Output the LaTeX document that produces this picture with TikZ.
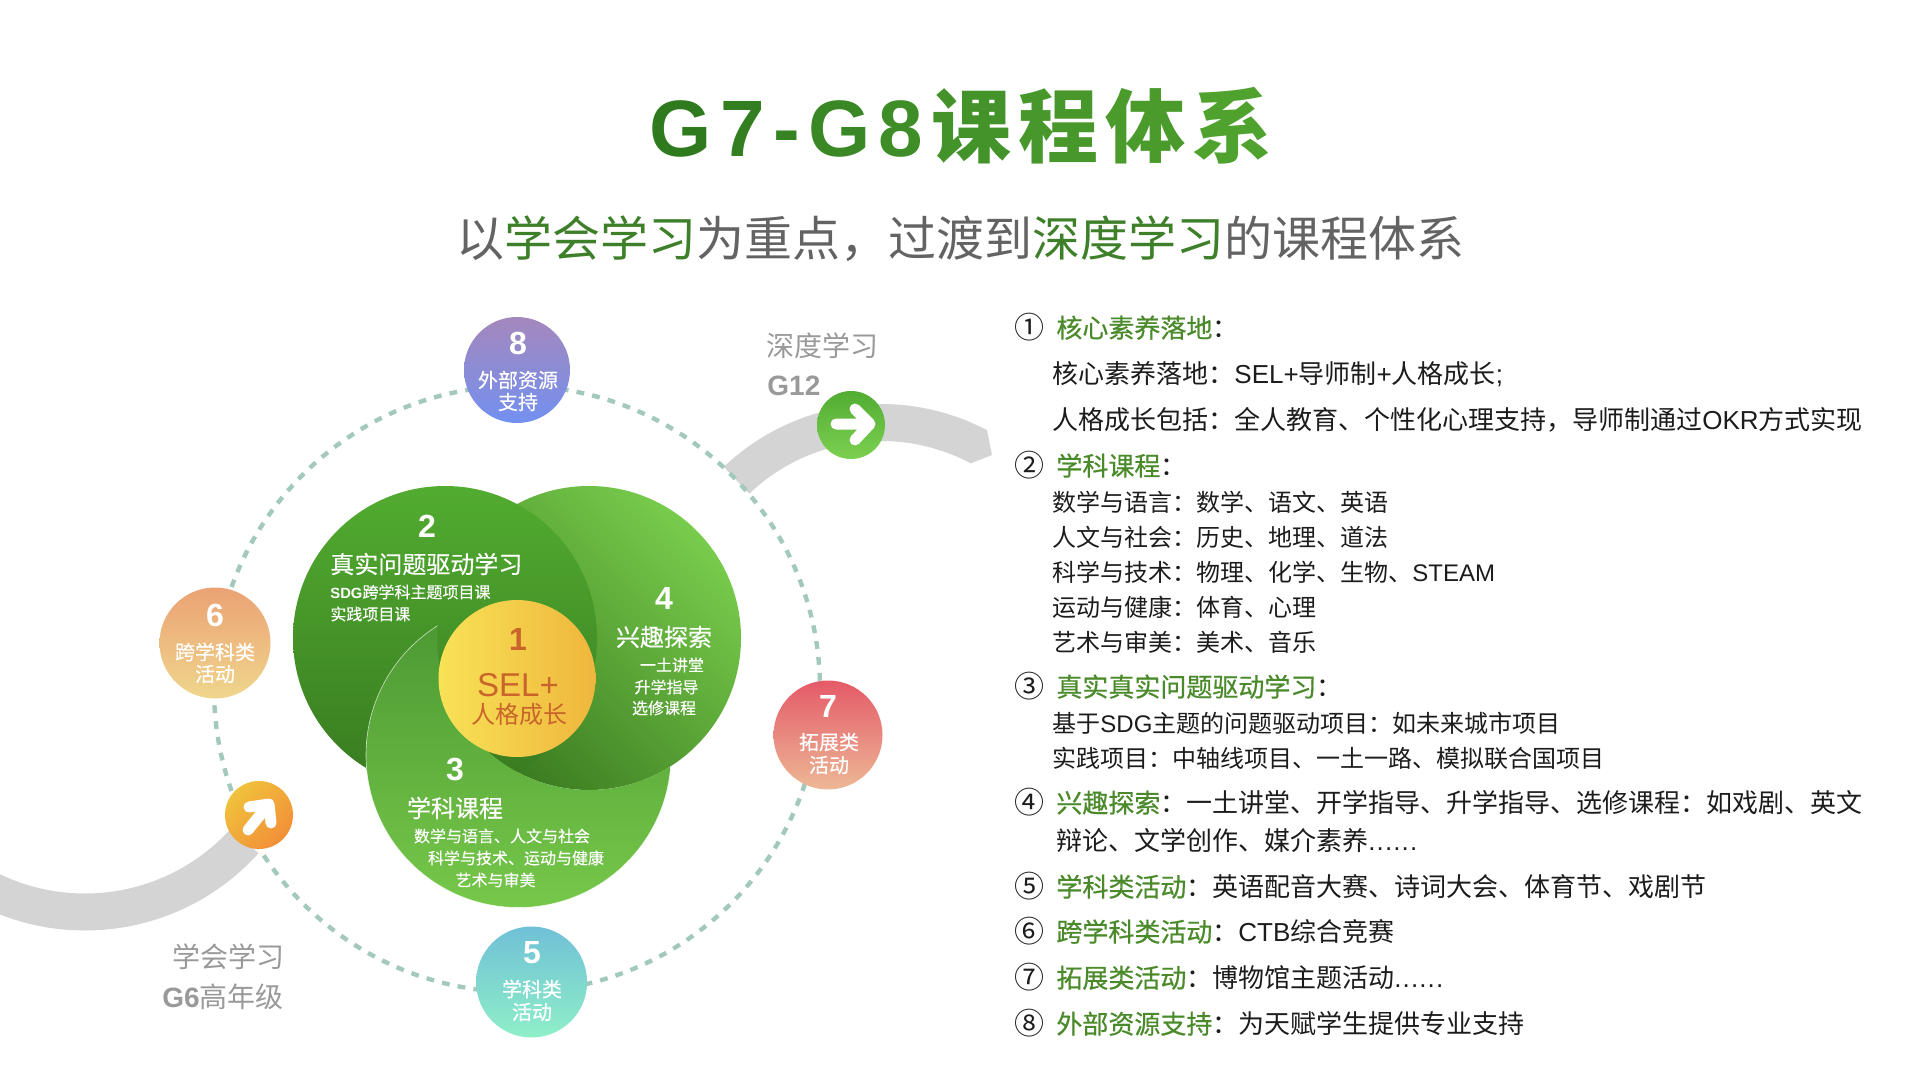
\documentclass[tikz,border=0pt]{standalone}
\usepackage{fontspec}
\setmainfont{Noto Sans CJK SC}
\newfontfamily\latf{Liberation Sans}
\newfontfamily\medf[FakeBold=0.3]{Noto Sans CJK SC}
\newfontfamily\semif[FakeBold=0.6]{Noto Sans CJK SC}
\newcommand{\lat}[1]{{\latf #1}}
\newcommand{\dotsx}{\lat{.\kern.55pt.\kern.55pt.\kern.55pt.\kern.55pt.\kern.55pt.}}
\usetikzlibrary{calc}
\definecolor{hgreen}{HTML}{4A8A2A}
\definecolor{subgreen}{HTML}{3E7F2A}
\definecolor{subgray}{HTML}{636363}
\definecolor{bodyblack}{HTML}{1C1C1C}
\definecolor{band}{HTML}{D4D4D4}
\definecolor{dashc}{HTML}{A3C9BC}
\definecolor{grayt}{HTML}{999999}
\definecolor{selc}{HTML}{C9652B}
\tikzset{
  x=0.5pt,y=-0.5pt,
  ctext/.style={text=white,inner sep=0pt,anchor=center,align=center},
  lbl/.style={ctext,font=\fontsize{10}{10}\selectfont\medf},
  num/.style={ctext,font=\fontsize{16}{16}\selectfont\latf\bfseries},
  headt/.style={ctext,font=\fontsize{12}{12}\selectfont\medf},
  smallt/.style={ctext,font=\fontsize{8}{8}\selectfont\medf},
  item/.style={inner sep=0pt,anchor=base west,yshift=-5.3pt,text=bodyblack,font=\fontsize{13}{13}\selectfont},
  subitem/.style={inner sep=0pt,anchor=base west,yshift=-4.5pt,text=bodyblack,font=\fontsize{12}{12}\selectfont},
  itemmark/.style={inner sep=0pt,anchor=center,text=bodyblack,font=\fontsize{15}{15}\selectfont},
  bandfill/.style={fill=band,draw=none},
  arrowline/.style={draw=white,line width=5.5pt,line cap=round,line join=round},
  grayl/.style={inner sep=0pt,text=grayt,font=\fontsize{14}{14}\selectfont}
}
\newcommand{\hg}[1]{\textcolor{hgreen}{\semif #1}}
\begin{document}
\begin{tikzpicture}
\useasboundingbox (0,0) rectangle (1920,1080);
\clip (0,0) rectangle (1920,1080);
% gray bands
\coordinate (rc) at (881,632);
\coordinate (lc) at (85,697);
\fill[bandfill] ([shift={(-133.6:228)}]rc) arc[start angle=-133.6,end angle=-62.3,radius=228] -- (992,455) -- ([shift={(-62:191)}]rc) arc[start angle=-62,end angle=-133.6,radius=191] -- cycle;
\fill[bandfill] ([shift={(42:233.5)}]lc) arc[start angle=42,end angle=125,radius=233.5] -- ([shift={(125:196.5)}]lc) arc[start angle=125,end angle=42,radius=196.5] -- cycle;
% dashed ring
\coordinate (ring) at (517,689);
\draw[draw=dashc,line width=2.2pt,dash pattern=on 3.9pt off 4.1pt] (ring) circle[radius=303];
% green venn
\coordinate (c2) at (445,638);
\coordinate (c3) at (518.5,755);
\coordinate (c4) at (589,638);
\shade[left color={rgb,255:red,120;green,204;blue,76},right color={rgb,255:red,58;green,122;blue,32},shading angle=-45] (c4) circle[radius=152];
\shade[top color={rgb,255:red,82;green,172;blue,48},bottom color={rgb,255:red,56;green,122;blue,32}] (c2) circle[radius=152];
\begin{scope}[even odd rule]
  \clip (0,0) rectangle (1920,1080) (c4) circle[radius=152];
  \shade[top color={rgb,255:red,74;green,150;blue,50},bottom color={rgb,255:red,118;green,200;blue,74}] (c3) circle[radius=152.5];
  \draw[white,opacity=.7,line width=.3pt] (c3) circle[radius=152.5];
\end{scope}
% center
\shade[left color={rgb,255:red,248;green,226;blue,86},right color={rgb,255:red,239;green,182;blue,61}] (517,678.5) circle[radius=78.5];
% bubbles
\shade[top color={rgb,255:red,164;green,136;blue,188},bottom color={rgb,255:red,115;green,144;blue,240}] (517,370) circle[radius=53];
\shade[top color={rgb,255:red,235;green,162;blue,116},bottom color={rgb,255:red,239;green,214;blue,140}] (215,643) circle[radius=55.5];
\shade[top color={rgb,255:red,228;green,90;blue,104},bottom color={rgb,255:red,237;green,184;blue,150}] (828,735) circle[radius=54.5];
\shade[top color={rgb,255:red,112;green,192;blue,214},bottom color={rgb,255:red,143;green,239;blue,200}] (531.6,982) circle[radius=55.5];
% arrows
\shade[top color={rgb,255:red,82;green,172;blue,51},bottom color={rgb,255:red,124;green,208;blue,80}] (851,425) circle[radius=34];
\draw[arrowline] (836,424) -- (870,424) (855,409) -- (870,424) -- (855,440);
\shade[left color={rgb,255:red,240;green,194;blue,60},right color={rgb,255:red,242;green,143;blue,56},shading angle=45] (259,815) circle[radius=34];
\draw[arrowline] (249,807) -- (269,804) -- (271,823) (269,804) -- (248,830);
% title
\node[inner sep=0pt,anchor=base west,font=\fontsize{40}{40}\selectfont\bfseries] (title) at (649,157) {\latf\textcolor[HTML]{2F7A1E}{G}\kern4.25pt\textcolor[HTML]{327E20}{7}\kern4.25pt\textcolor[HTML]{368323}{-}\kern4.25pt\textcolor[HTML]{3A8825}{G}\kern4.25pt\textcolor[HTML]{3E8D27}{8}\kern4.25pt\normalfont\bfseries\textcolor[HTML]{43922A}{课}\kern3.35pt\textcolor[HTML]{47972B}{程}\kern3.35pt\textcolor[HTML]{4A9B2C}{体}\kern3.35pt\textcolor[HTML]{4FA22E}{系}};
\node[inner sep=0pt,anchor=center,text=subgray,font=\fontsize{24}{24}\selectfont] (sub) at (960,239) {以\textcolor{subgreen}{学会学习}为重点，过渡到\textcolor{subgreen}{深度学习}的课程体系};
% gray labels
\node[grayl,anchor=center] (l1) at (822,346) {深度学习};
\node[grayl,anchor=west] (l2) at (767,386) {\latf\bfseries G12};
\node[grayl,anchor=center] (l3) at (228,957) {学会学习};
\node[grayl,anchor=east] (l4) at (284,997) {\lat{\bfseries G6}高年级};
% bubble text
\node[num] (n8) at (518,343) {8};
\node[lbl] (t8a) at (518,380) {外部资源};
\node[lbl] (t8b) at (518,402) {支持};
\node[num] (n6) at (215,615) {6};
\node[lbl] (t6a) at (215,652) {跨学科类};
\node[lbl] (t6b) at (215,674) {活动};
\node[num] (n7) at (828,706) {7};
\node[lbl] (t7a) at (829,742) {拓展类};
\node[lbl] (t7b) at (829,765) {活动};
\node[num] (n5) at (532,953) {5};
\node[lbl] (t5a) at (532,989) {学科类};
\node[lbl] (t5b) at (532,1012) {活动};
% venn text
\node[num] (n2) at (427,526) {2};
\node[headt,anchor=west] (h2) at (330,564) {真实问题驱动学习};
\node[smallt,anchor=west] (s2a) at (330,592) {{\fontsize{7.4}{8}\selectfont\lat{\bfseries SDG}}跨学科主题项目课};
\node[smallt,anchor=west] (s2b) at (330,614) {实践项目课};
\node[num] (n4) at (664,598) {4};
\node[headt] (h4) at (664,637) {兴趣探索};
\node[smallt] (s4a) at (672,665) {一土讲堂};
\node[smallt] (s4b) at (666.5,687) {升学指导};
\node[smallt] (s4c) at (664,708) {选修课程};
\node[num] (n3) at (455,770) {3};
\node[headt] (h3) at (455,808) {学科课程};
\node[smallt] (s3a) at (502,836) {数学与语言、人文与社会};
\node[smallt] (s3b) at (516,858) {科学与技术、运动与健康};
\node[smallt] (s3c) at (495.5,880) {艺术与审美};
\node[num,text=selc] (n1) at (518,639) {1};
\node[ctext,text=selc,font=\fontsize{16.5}{16.5}\selectfont\latf] (sel) at (518,685) {SEL+};
\node[ctext,text=selc,font=\fontsize{12}{12}\selectfont] (rg) at (519,714) {人格成长};
% list
\node[itemmark] (m1) at (1029,327) {①};
\node[item] (i1) at (1056,327) {\hg{核心素养落地}：};
\node[item] (i1a) at (1052,373) {核心素养落地：\lat{SEL+}导师制\lat{+}人格成长\lat{;}};
\node[item] (i1b) at (1052,419) {人格成长包括：全人教育、个性化心理支持，导师制通过\lat{OKR}方式实现};
\node[itemmark] (m2) at (1029,465) {②};
\node[item] (i2) at (1056,465) {\hg{学科课程}：};
\node[subitem] (i2a) at (1052,502) {数学与语言：数学、语文、英语};
\node[subitem] (i2b) at (1052,537) {人文与社会：历史、地理、道法};
\node[subitem] (i2c) at (1052,572) {科学与技术：物理、化学、生物、\lat{STEAM}};
\node[subitem] (i2d) at (1052,607) {运动与健康：体育、心理};
\node[subitem] (i2e) at (1052,642) {艺术与审美：美术、音乐};
\node[itemmark] (m3) at (1029,686) {③};
\node[item] (i3) at (1056,686) {\hg{真实真实问题驱动学习}：};
\node[subitem] (i3a) at (1052,723) {基于\lat{SDG}主题的问题驱动项目：如未来城市项目};
\node[subitem] (i3b) at (1052,758) {实践项目：中轴线项目、一土一路、模拟联合国项目};
\node[itemmark] (m4) at (1029,802) {④};
\node[item] (i4) at (1056,802) {\hg{兴趣探索}：一土讲堂、开学指导、升学指导、选修课程：如戏剧、英文};
\node[item] (i4a) at (1056,840) {辩论、文学创作、媒介素养\dotsx};
\node[itemmark] (m5) at (1029,886) {⑤};
\node[item] (i5) at (1056,886) {\hg{学科类活动}：英语配音大赛、诗词大会、体育节、戏剧节};
\node[itemmark] (m6) at (1029,931) {⑥};
\node[item] (i6) at (1056,931) {\hg{跨学科类活动}：\lat{CTB}综合竞赛};
\node[itemmark] (m7) at (1029,977) {⑦};
\node[item] (i7) at (1056,977) {\hg{拓展类活动}：博物馆主题活动\dotsx};
\node[itemmark] (m8) at (1029,1023) {⑧};
\node[item] (i8) at (1056,1023) {\hg{外部资源支持}：为天赋学生提供专业支持};
\end{tikzpicture}
\end{document}
